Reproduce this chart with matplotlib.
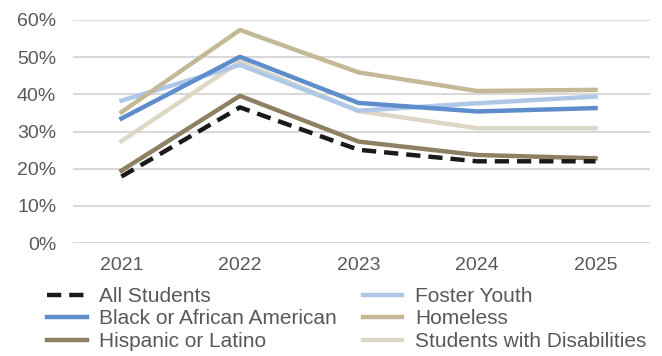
import matplotlib.pyplot as plt
from matplotlib.ticker import PercentFormatter

plt.rcParams['font.family'] = ['Liberation Sans', 'DejaVu Sans']

years = ['2021', '2022', '2023', '2024', '2025']

all_students = [17.9, 36.5, 25.1, 22.0, 22.0]
black = [33.5, 50.1, 37.7, 35.4, 36.3]
hispanic = [19.5, 39.6, 27.3, 23.7, 22.8]
foster = [38.3, 47.9, 35.6, 37.6, 39.4]
homeless = [35.2, 57.3, 45.9, 40.9, 41.2]
swd = [27.4, 48.8, 35.5, 30.9, 30.9]

fig = plt.figure(figsize=(6.62, 3.56), dpi=100)
ax = fig.add_axes([0.110, 0.317, 0.872, 0.627])

x = range(len(years))
lw = 3.2
# drawn back to front so the dashed line sits on top
ax.plot(x, swd, color='#DDD8C6', lw=lw, label='Students with Disabilities', zorder=2)
ax.plot(x, foster, color='#AFC8E8', lw=lw, label='Foster Youth', zorder=2)
ax.plot(x, homeless, color='#C4B996', lw=lw, label='Homeless', zorder=2)
ax.plot(x, black, color='#5E8DCB', lw=lw, label='Black or African American', zorder=3)
ax.plot(x, hispanic, color='#8E8062', lw=lw, label='Hispanic or Latino', zorder=3)
ax.plot(x, all_students, color='#1A1A1A', lw=lw, ls=(0, (3.2, 1.8)),
        label='All Students', zorder=4)

ax.set_ylim(0, 60)
ax.set_xlim(-0.41, 4.46)
ax.set_yticks(range(0, 61, 10))
ax.yaxis.set_major_formatter(PercentFormatter(decimals=0))
ax.set_xticks(list(x))
ax.set_xticklabels(years)
ax.grid(axis='y', color='#D9D9D9', lw=1.5)
ax.set_axisbelow(True)
for s in ax.spines.values():
    s.set_visible(False)
ax.tick_params(length=0, labelsize=14, colors='#595959')
ax.tick_params(axis='y', pad=12)
ax.tick_params(axis='x', pad=10)

handles, labels = ax.get_legend_handles_labels()
order = ['All Students', 'Black or African American', 'Hispanic or Latino',
         'Foster Youth', 'Homeless', 'Students with Disabilities']
hmap = dict(zip(labels, handles))
fig.legend([hmap[k] for k in order], order, ncol=2, loc='lower left',
           bbox_to_anchor=(0.052, -0.021), frameon=False, fontsize=15,
           labelcolor='#595959', handlelength=1.9, handletextpad=0.6,
           columnspacing=1.25, labelspacing=0.17, borderaxespad=0.2)

fig.savefig('out.png', dpi=100)
